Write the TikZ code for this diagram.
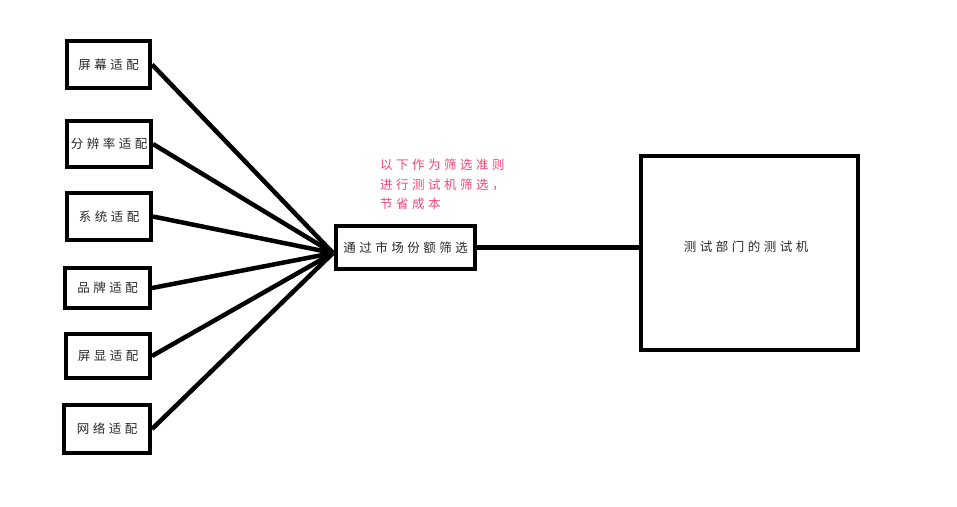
\documentclass[tikz,border=0pt]{standalone}
\usepackage{fontspec}
\newfontfamily\cjk[LetterSpace=28]{Noto Sans CJK SC}
\definecolor{pinktxt}{RGB}{245,70,120}
\definecolor{txtgray}{RGB}{40,40,40}
\begin{document}
\begin{tikzpicture}[x=1pt,y=-1pt,
  box/.style={draw=black,line width=4pt,fill=white,inner sep=0pt,font=\cjk\fontsize{12.5}{14}\selectfont,text=txtgray},
  conn/.style={line width=4.5pt,draw=black}]
\useasboundingbox (0,0) rectangle (957,506);
\fill[white] (0,0) rectangle (957,506);
% left boxes
\node[box,minimum width=83pt,minimum height=47pt] (b1) at (108.5,64.5) {屏幕适配};
\node[box,minimum width=84pt,minimum height=46pt] (b2) at (109,144) {分辨率适配};
\node[box,minimum width=84pt,minimum height=47pt] (b3) at (109,216.5) {系统适配};
\node[box,minimum width=85pt,minimum height=40pt] (b4) at (107.5,288) {品牌适配};
\node[box,minimum width=84pt,minimum height=44pt] (b5) at (108,356) {屏显适配};
\node[box,minimum width=86pt,minimum height=48pt] (b6) at (107,429) {网络适配};
% middle and right
\node[box,minimum width=139pt,minimum height=43pt] (mid) at (405.5,247.5) {通过市场份额筛选};
\node[box,minimum width=217pt,minimum height=194pt] (tgt) at (749.5,253) {};
\node[font=\cjk\fontsize{12.5}{14}\selectfont,text=txtgray,inner sep=0pt] (tgtlabel) at (746,247) {测试部门的测试机};
% note
\node[font=\cjk\fontsize{12.5}{19.3}\selectfont,text=pinktxt,align=left,anchor=north west,inner sep=0pt] (note) at (380,159) {以下作为筛选准则\\进行测试机筛选，\\节省成本};
% connectors
\coordinate (hub) at (333,253);
\draw[conn] (b1.east) -- (hub);
\draw[conn] (b2.east) -- (hub);
\draw[conn] (b3.east) -- (hub);
\draw[conn] (b4.east) -- (hub);
\draw[conn] (b5.east) -- (hub);
\draw[conn] (b6.east) -- (hub);
\draw[conn] (mid.east) -- (mid.east -| tgt.west);
\end{tikzpicture}
\end{document}
